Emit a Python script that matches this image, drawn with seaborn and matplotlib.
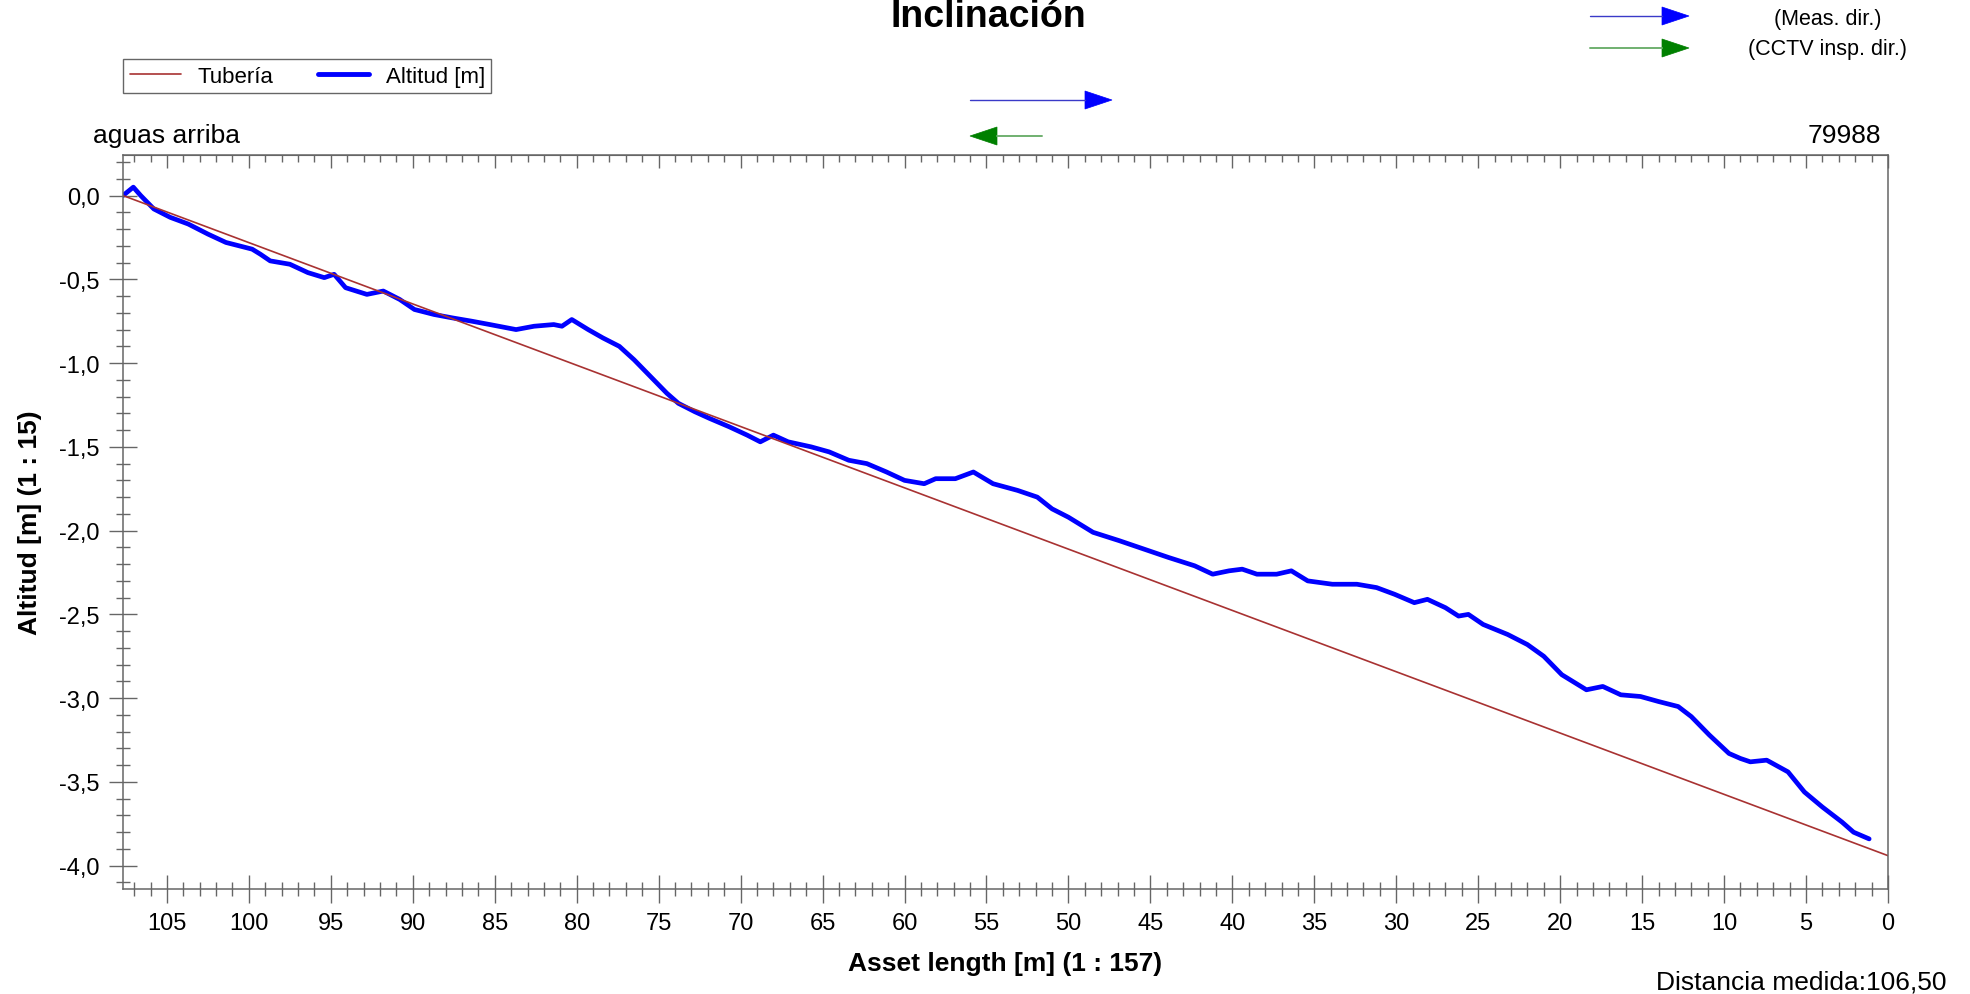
import numpy as np
import pandas as pd
import matplotlib.pyplot as plt
from matplotlib.ticker import MultipleLocator, FuncFormatter
from matplotlib.patches import Polygon
from matplotlib.lines import Line2D
import seaborn as sns

# measured profile (distance from end [m], altitude [m])
dist = [107.68, 107.05, 106.6, 105.8, 104.8, 103.7, 102.5, 101.4, 99.8, 99.3, 98.7,
        97.5, 96.4, 95.4, 94.8, 94.1, 92.8, 91.8, 90.8, 89.9, 88.7, 87.6, 86.4,
        85.3, 83.7, 82.6, 81.4, 80.9, 80.3, 79.3, 78.4, 77.4, 76.5, 75.5, 74.5,
        73.8, 72.8, 71.9, 70.7, 69.6, 68.8, 68.0, 67.1, 65.7, 64.6, 63.4, 62.3,
        61.1, 60.0, 58.8, 58.1, 56.9, 55.8, 54.6, 53.1, 51.9, 51.0, 50.0, 48.5,
        46.9, 45.4, 43.9, 42.3, 41.2, 40.2, 39.4, 38.5, 37.3, 36.4, 35.4, 33.9,
        32.4, 31.2, 30.1, 28.9, 28.1, 27.0, 26.2, 25.6, 24.7, 23.2, 22.0, 21.0,
        19.9, 18.9, 18.4, 17.4, 16.3, 15.1, 14.0, 12.8, 12.0, 10.9, 9.7, 9.0,
        8.4, 7.4, 6.1, 5.1, 4.0, 2.8, 2.1, 1.15]
altitude = [0.0, 0.05, 0.0, -0.08, -0.13, -0.17, -0.23, -0.28, -0.32, -0.35, -0.39,
            -0.41, -0.46, -0.49, -0.47, -0.55, -0.59, -0.57, -0.62, -0.68, -0.71, -0.73, -0.75,
            -0.77, -0.80, -0.78, -0.77, -0.78, -0.74, -0.80, -0.85, -0.90, -0.98, -1.08, -1.18,
            -1.24, -1.29, -1.33, -1.38, -1.43, -1.47, -1.43, -1.47, -1.50, -1.53, -1.58, -1.60,
            -1.65, -1.70, -1.72, -1.69, -1.69, -1.65, -1.72, -1.76, -1.80, -1.87, -1.92, -2.01,
            -2.06, -2.11, -2.16, -2.21, -2.26, -2.24, -2.23, -2.26, -2.26, -2.24, -2.30, -2.32,
            -2.32, -2.34, -2.38, -2.43, -2.41, -2.46, -2.51, -2.50, -2.56, -2.62, -2.68, -2.75,
            -2.86, -2.92, -2.95, -2.93, -2.98, -2.99, -3.02, -3.05, -3.11, -3.22, -3.33, -3.36,
            -3.38, -3.37, -3.44, -3.56, -3.65, -3.74, -3.80, -3.84]

# pipe (straight line)
pipe_dist = [107.68, 0.0]
pipe_alt = [0.0, -3.94]

x_ticks = list(range(0, 106, 5))
y_ticks = [0.0, -0.5, -1.0, -1.5, -2.0, -2.5, -3.0, -3.5, -4.0]

sns.set_style("ticks")
plt.rcParams['font.family'] = ['Liberation Sans', 'DejaVu Sans']
plt.rcParams['axes.unicode_minus'] = False
plt.rcParams['text.color'] = 'black'

W, H = 1970, 995
fig = plt.figure(figsize=(W / 100, H / 100), dpi=100)
ax = fig.add_axes([123 / W, 1 - 890 / H, (1888 - 123) / W, (890 - 156) / H])

def fx(px):
    return px / W

def fy(py):
    return 1 - py / H

prof = pd.DataFrame({'dist': dist, 'alt': altitude})
pipe = pd.DataFrame({'dist': pipe_dist, 'alt': pipe_alt})

sns.lineplot(data=prof, x='dist', y='alt', ax=ax, color='#0000ff', lw=3.4,
             sort=False, legend=False)
sns.lineplot(data=pipe, x='dist', y='alt', ax=ax, color='#a83232', lw=1.2,
             sort=False, legend=False)

ax.set_xlim(107.68, 0)
ax.set_ylim(-4.139, 0.242)

ax.set_xticks(x_ticks)
ax.xaxis.set_minor_locator(MultipleLocator(1))
ax.set_yticks(y_ticks)
ax.yaxis.set_minor_locator(MultipleLocator(0.1))
ax.yaxis.set_major_formatter(FuncFormatter(lambda v, p: f"{v:.1f}".replace('.', ',')))

gray = '#666666'
for s in ax.spines.values():
    s.set_color(gray)
    s.set_linewidth(1.1)

ax.tick_params(axis='both', which='major', direction='inout', length=19.5, width=1.0,
               color=gray, labelsize=17, labelcolor='black')
ax.tick_params(axis='both', which='minor', direction='inout', length=10, width=1.0,
               color=gray)
ax.tick_params(axis='x', which='major', pad=7)
ax.tick_params(axis='y', which='major', pad=7)

# top ruler ticks point inward
top = ax.secondary_xaxis('top')
top.set_xticks(x_ticks)
top.xaxis.set_minor_locator(MultipleLocator(1))
top.tick_params(which='major', direction='in', length=9.5, width=1.0, color=gray,
                labeltop=False)
top.tick_params(which='minor', direction='in', length=5, width=1.0, color=gray)
top.spines['top'].set_color(gray)

ax.set_xlabel('')
ax.set_ylabel('')

# texts
fig.text(fx(988), fy(27), 'Inclinación', ha='center', va='baseline',
         fontsize=27, fontweight='bold', color='black')
fig.text(fx(1005), fy(971), 'Asset length [m] (1 : 157)', ha='center', va='baseline',
         fontsize=19, fontweight='bold', color='black')
fig.text(fx(30), fy(523), 'Altitud [m] (1 : 15)', ha='center', va='center',
         rotation=90, fontsize=19, fontweight='bold', color='black')
fig.text(fx(93), fy(143), 'aguas arriba', ha='left', va='baseline', fontsize=19)
fig.text(fx(1881), fy(143), '79988', ha='right', va='baseline', fontsize=19)
fig.text(fx(1946), fy(990), 'Distancia medida:106,50', ha='right', va='baseline',
         fontsize=19)
fig.text(fx(1828), fy(25), '(Meas. dir.)', ha='center', va='baseline', fontsize=15.5)
fig.text(fx(1828), fy(55), '(CCTV insp. dir.)', ha='center', va='baseline', fontsize=15.5)

# direction arrows
def arrow(x0, x1, y, shaft_col, head_col, head_len=27, head_h=18, shaft_lw=1.0):
    sign = 1 if x1 > x0 else -1
    base = x1 - sign * head_len
    fig.add_artist(Line2D([fx(x0), fx(base)], [fy(y), fy(y)], color=shaft_col,
                          lw=shaft_lw, transform=fig.transFigure))
    fig.add_artist(Polygon([[fx(base), fy(y - head_h / 2)], [fx(x1), fy(y)],
                            [fx(base), fy(y + head_h / 2)]], closed=True,
                           facecolor=head_col, edgecolor=head_col, lw=0.5,
                           transform=fig.transFigure))

arrow(1590, 1689, 17, '#3a3ac8', '#0000ff')
arrow(1590, 1689, 49, '#70b070', '#008000', shaft_lw=1.4)
arrow(970, 1112, 101, '#3a3ac8', '#0000ff')
arrow(1042, 970, 137, '#70b070', '#008000', shaft_lw=1.4)

# legend
handles = [Line2D([], [], color='#a83232', lw=1.2),
           Line2D([], [], color='#0000ff', lw=3.5)]
leg = fig.legend(handles, ['Tubería', 'Altitud [m]'], loc='upper left',
                 bbox_to_anchor=(fx(123), fy(60)), bbox_transform=fig.transFigure,
                 ncol=2, fontsize=16, frameon=True, fancybox=False,
                 borderaxespad=0, borderpad=0.3, handlelength=2.3,
                 handletextpad=0.75, columnspacing=2.0)
leg.get_frame().set_edgecolor(gray)
leg.get_frame().set_linewidth(1.0)
leg.get_frame().set_alpha(1)
for t in leg.get_texts():
    t.set_color('black')

fig.savefig('out.png', dpi=100)
